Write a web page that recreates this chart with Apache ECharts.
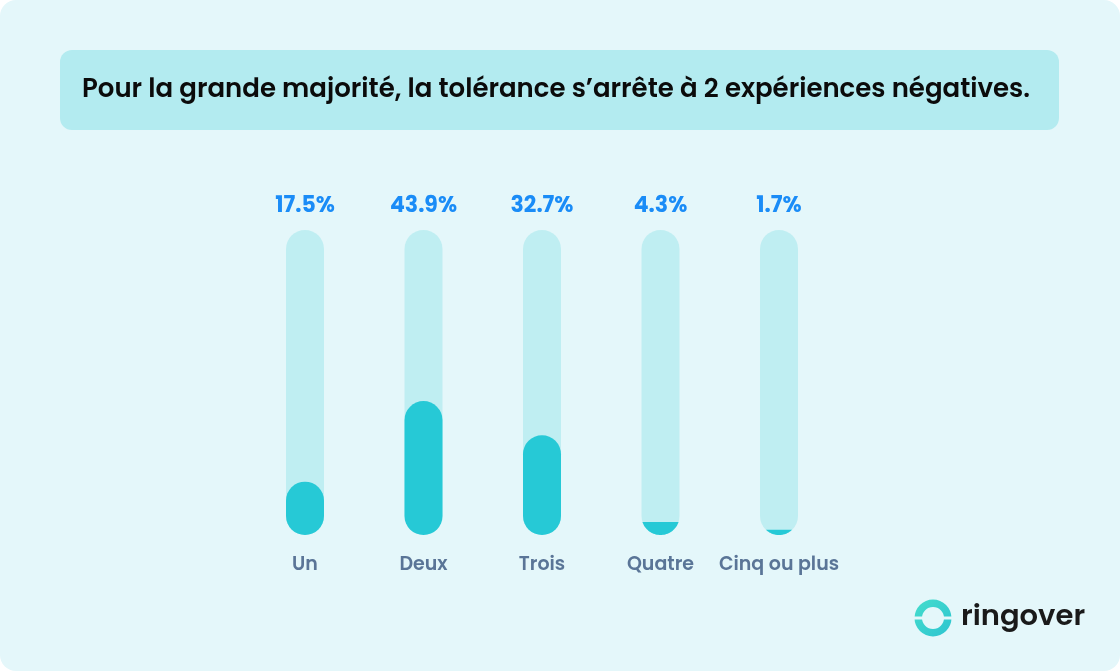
<!DOCTYPE html>
<html><head><meta charset="utf-8">
<script src="https://cdn.jsdelivr.net/npm/echarts@6/dist/echarts.min.js"></script>
<style>html,body{margin:0;padding:0;background:#ffffff;}#c{width:1120px;height:671px;}</style>
</head><body><div id="c"></div>
<script>
const titleText = 'Pour la grande majorité, la tolérance s’arrête à 2 expériences négatives.';
const categories = ['Un', 'Deux', 'Trois', 'Quatre', 'Cinq ou plus'];
const values = [17.5, 43.9, 32.7, 4.3, 1.7];
const trackValues = [100, 100, 100, 100, 100];
const yMax = 100;

const BAR_W = 38;
const FONT = 'Poppins, "Open Sans", Inter, sans-serif';

function renderFill(params, api) {
  const top = api.coord([api.value(0), api.value(1)]);
  const base = api.coord([api.value(0), 0]);
  const cx = top[0], r = BAR_W / 2;
  const yTop = top[1], yBase = base[1];
  const h = yBase - yTop;
  const style = { fill: '#26C9D6' };
  if (h >= BAR_W) {
    return { type: 'rect', shape: { x: cx - r, y: yTop, width: BAR_W, height: h, r: r }, style: style };
  }
  const cy = yBase - r;
  const pts = [];
  const N = 40;
  if (yTop >= cy) {
    const t0 = Math.asin(Math.min(1, (yTop - cy) / r));
    for (let k = 0; k <= N; k++) {
      const t = (Math.PI - t0) - k * (Math.PI - 2 * t0) / N;
      pts.push([cx + r * Math.cos(t), cy + r * Math.sin(t)]);
    }
  } else {
    pts.push([cx - r, yTop]);
    for (let k = 0; k <= N; k++) {
      const t = Math.PI - k * Math.PI / N;
      pts.push([cx + r * Math.cos(t), cy + r * Math.sin(t)]);
    }
    pts.push([cx + r, yTop]);
  }
  return { type: 'polygon', shape: { points: pts }, style: style };
}

const chart = echarts.init(document.getElementById('c'), null, { renderer: 'canvas' });
chart.setOption({
  backgroundColor: 'transparent',
  animation: false,
  graphic: [
    { type: 'rect', z: -10, shape: { x: 0, y: 0, width: 1120, height: 671, r: 16 }, style: { fill: '#E4F7FA' } },
    { type: 'rect', z: -9, shape: { x: 60, y: 50, width: 999, height: 80, r: 12 }, style: { fill: '#B3EBF0' } },
    { type: 'text', z: 5, style: { x: 82, y: 90, text: titleText, fill: '#0B0B0B', font: '600 26px ' + FONT, verticalAlign: 'middle', align: 'left' } },
    // logo ring
    { type: 'ring', z: 5, shape: { cx: 933, cy: 618, r: 18.5, r0: 11 }, style: {
        fill: new echarts.graphic.LinearGradient(0, 0, 1, 1, [{ offset: 0, color: '#45DDCC' }, { offset: 1, color: '#2CC4D0' }]) } },
    { type: 'rect', z: 6, shape: { x: 912, y: 616.5, width: 42, height: 3 }, style: { fill: '#E4F7FA' } },
    { type: 'text', z: 5, style: { x: 961, y: 618, text: 'ringover', fill: '#1A1A1A', font: '600 29px ' + FONT, verticalAlign: 'middle', align: 'left' } }
  ],
  grid: { left: 245.75, right: 1120 - 838.25, top: 230, bottom: 136, containLabel: false },
  xAxis: {
    type: 'category', data: categories,
    axisLine: { show: false }, axisTick: { show: false },
    axisLabel: { interval: 0, color: '#5A7597', fontSize: 19, fontWeight: 600, fontFamily: FONT, margin: 21 }
  },
  yAxis: { type: 'value', min: 0, max: yMax, show: false, splitLine: { show: false } },
  series: [
    {
      type: 'bar', data: trackValues, barWidth: BAR_W, z: 1,
      itemStyle: { color: '#BFEEF2', borderRadius: BAR_W / 2 },
      label: {
        show: true, position: 'top', distance: 13,
        formatter: (p) => values[p.dataIndex] + '%',
        color: '#1A8CF7', fontSize: 22, fontWeight: 700, fontFamily: FONT
      },
      silent: true
    },
    {
      type: 'custom', z: 3,
      data: values.map((v, i) => [i, v]),
      encode: { x: 0, y: 1 },
      renderItem: renderFill
    }
  ]
});
</script></body></html>
